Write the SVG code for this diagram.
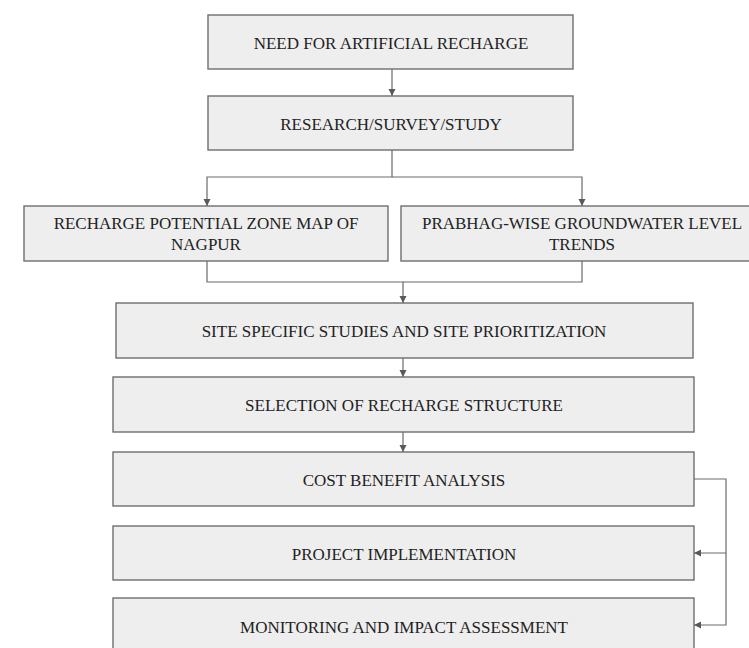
<svg xmlns="http://www.w3.org/2000/svg" width="749" height="648" viewBox="0 0 749 648">
<style>
.box{fill:#eeeeee;stroke:#6e6e6e;stroke-width:1.4}
.t{font-family:"Liberation Serif","Times New Roman",serif;font-size:17px;fill:#222;text-anchor:middle}
.c{fill:none;stroke:#6a6a6a;stroke-width:1.2}
</style>
<defs>
<marker id="ah" markerUnits="userSpaceOnUse" markerWidth="8" markerHeight="8" refX="7" refY="3.5" orient="auto">
<path d="M0,0 L7,3.5 L0,7 z" fill="#5a5a5a"/>
</marker>
</defs>
<rect width="749" height="648" fill="#ffffff"/>
<g id="connectors">
<path class="c" d="M392,69 V96" marker-end="url(#ah)"/>
<path class="c" d="M392,150 V177 H207 V206" marker-end="url(#ah)"/>
<path class="c" d="M392,177 H582 V206" marker-end="url(#ah)"/>
<path class="c" d="M207,261 V282 H403 V303" marker-end="url(#ah)"/>
<path class="c" d="M582,261 V282 H403"/>
<path class="c" d="M403,358 V377" marker-end="url(#ah)"/>
<path class="c" d="M403,432 V452" marker-end="url(#ah)"/>
<path class="c" d="M694,479 H726 V553 H694" marker-end="url(#ah)"/>
<path class="c" d="M726,553 V625 H694" marker-end="url(#ah)"/>
</g>
<g id="need">
<rect class="box" x="208" y="15" width="365" height="54"/>
<text class="t" x="391" y="49">NEED FOR ARTIFICIAL RECHARGE</text>
</g>
<g id="research">
<rect class="box" x="208" y="96" width="365" height="54"/>
<text class="t" x="391" y="130">RESEARCH/SURVEY/STUDY</text>
</g>
<g id="zonemap">
<rect class="box" x="24" y="206" width="364" height="55"/>
<text class="t" x="206" y="229">RECHARGE POTENTIAL ZONE MAP OF</text>
<text class="t" x="206" y="250">NAGPUR</text>
</g>
<g id="prabhag">
<rect class="box" x="401" y="206" width="362" height="55"/>
<text class="t" x="582" y="229">PRABHAG-WISE GROUNDWATER LEVEL</text>
<text class="t" x="582" y="250">TRENDS</text>
</g>
<g id="site">
<rect class="box" x="116" y="303" width="577" height="55"/>
<text class="t" x="404" y="337">SITE SPECIFIC STUDIES AND SITE PRIORITIZATION</text>
</g>
<g id="selection">
<rect class="box" x="113" y="377" width="581" height="55"/>
<text class="t" x="404" y="411">SELECTION OF RECHARGE STRUCTURE</text>
</g>
<g id="cost">
<rect class="box" x="113" y="452" width="581" height="54"/>
<text class="t" x="404" y="486">COST BENEFIT ANALYSIS</text>
</g>
<g id="implementation">
<rect class="box" x="113" y="526" width="581" height="54"/>
<text class="t" x="404" y="560">PROJECT IMPLEMENTATION</text>
</g>
<g id="monitoring">
<rect class="box" x="113" y="598" width="581" height="56"/>
<text class="t" x="404" y="633">MONITORING AND IMPACT ASSESSMENT</text>
</g>
</svg>
